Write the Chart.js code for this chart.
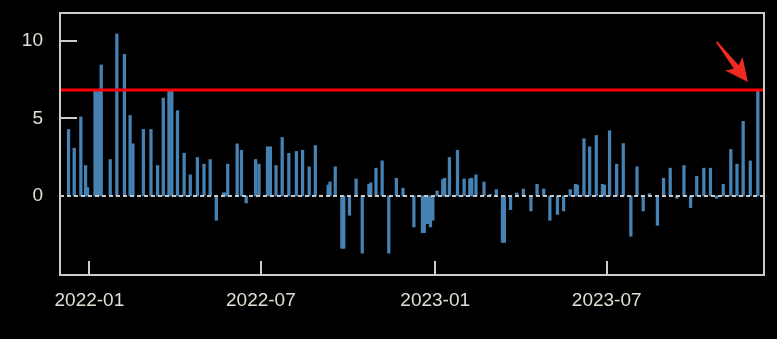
<!DOCTYPE html>
<html>
<head>
<meta charset="utf-8">
<script src="https://cdn.jsdelivr.net/npm/chart.js@4/dist/chart.umd.min.js"></script>
<style>
  html, body { margin: 0; padding: 0; background: #000; }
  #wrap { width: 777px; height: 339px; position: relative; }
</style>
</head>
<body>
<div id="wrap"><canvas id="myChart"></canvas></div>
<script>
// days counted from 2022-01-01
const days = [-22, -16, -9, -4, -2, 6, 8, 10, 12.5, 22, 29, 37, 43, 46, 57, 65, 72, 78, 84, 87,
  93, 100, 106.5, 114, 121, 127.5, 134, 141.5, 143.5, 146, 156, 160.5, 165.5, 175.5, 179, 188, 191, 197, 203.5, 210.5,
  218.5, 225, 232, 238.5, 244, 252, 254, 259.5, 266.5, 268.5, 274.5, 281.5, 288, 295, 297, 302.5, 309, 316, 324, 331,
  342.5, 351.5, 353.5, 355.5, 357.5, 360, 362.5, 367, 373, 375, 380, 388.5, 395.5, 401.5, 403.5, 408, 416.5, 423, 429.5, 436,
  438, 444.5, 451, 458, 466, 472.5, 479.5, 486, 494, 500.5, 507.5, 513, 515, 522, 528, 535, 541.5, 543.5, 549, 556.5,
  563.5, 571.5, 578, 584.5, 591, 599.5, 606, 613, 620, 627.5, 634.5, 641, 648.5, 655.5, 662, 669, 677, 683.5, 690, 697.5, 705.5];
const values = [4.29, 3.08, 5.1, 1.96, 0.54, 6.83, 6.83, 6.83, 8.45, 2.35, 10.45, 9.14, 5.19, 3.36, 4.29, 4.29, 1.96, 6.31, 6.75, 6.75,
  5.5, 2.76, 1.36, 2.48, 2.05, 2.35, -1.57, 0.2, 0.2, 2.05, 3.36, 2.95, -0.45, 2.35, 2.05, 3.17, 3.17, 1.96, 3.77, 2.74,
  2.87, 2.95, 1.88, 3.25, 0.05, 0.7, 0.9, 1.88, -3.38, -3.38, -1.25, 1.1, -3.69, 0.75, 0.84, 1.79, 2.26, -3.69, 1.14, 0.5,
  -2.0, -2.37, -2.37, -1.79, -1.79, -2.0, -1.57, 0.32, 1.06, 1.14, 2.48, 2.95, 1.1, 1.1, 1.14, 1.36, 0.9, 0.1, 0.41, -3.0,
  -3.0, -0.88, 0.19, 0.45, -0.97, 0.75, 0.45, -1.57, -1.19, -0.97, 0.41, 0.75, 0.7, 3.69, 3.17, 3.9, 0.75, 0.7, 4.2, 2.05,
  3.38, -2.6, 1.88, -0.97, 0.15, -1.9, 1.14, 1.79, -0.15, 1.96, -0.75, 1.27, 1.79, 1.79, -0.15, 0.75, 3.0, 2.05, 4.81, 2.26, 6.75];

const xTickDays = [0, 181, 365, 546];
const xTickLabels = ['2022-01', '2022-07', '2023-01', '2023-07'];
const yTicks = [0, 5, 10];
const threshold = 6.84;
const xMin = -31, xMax = 712;
const yMin = -5.1, yMax = 11.8;
// arrow pointing at the last bar (data units)
const arrowTail = {x: 662, y: 9.95};
const arrowTip = {x: 695, y: 7.35};

const textColor = '#e2ddd2';
const frameColor = '#cccccc';

// 边框、内侧刻度、箭头
const framePlugin = {
  id: 'frame',
  afterDraw(chart) {
    const c = chart.ctx;
    const a = chart.chartArea;
    const xs = chart.scales.x, ys = chart.scales.y;
    c.save();
    c.strokeStyle = frameColor;
    c.lineWidth = 2;
    c.strokeRect(a.left, a.top, a.right - a.left, a.bottom - a.top);
    c.beginPath();
    xTickDays.forEach(d => {
      const px = Math.round(xs.getPixelForValue(d));
      c.moveTo(px, a.bottom);
      c.lineTo(px, a.bottom - 14);
    });
    yTicks.forEach(v => {
      if (v === 0) return;
      const py = Math.round(ys.getPixelForValue(v));
      c.moveTo(a.left, py);
      c.lineTo(a.left + 17, py);
    });
    c.stroke();

    // 红色箭头
    const tx = xs.getPixelForValue(arrowTail.x), ty = ys.getPixelForValue(arrowTail.y);
    const hx = xs.getPixelForValue(arrowTip.x), hy = ys.getPixelForValue(arrowTip.y);
    const ang = Math.atan2(hy - ty, hx - tx);
    const len = Math.hypot(hx - tx, hy - ty);
    c.translate(hx, hy);
    c.rotate(ang);
    c.fillStyle = '#ee2b20';
    c.beginPath();
    c.moveTo(0, 0);
    c.lineTo(-23, -11);
    c.lineTo(-19, -3);
    c.lineTo(-len, -0.8);
    c.lineTo(-len, 0.8);
    c.lineTo(-19, 3);
    c.lineTo(-23, 11);
    c.closePath();
    c.fill();
    c.restore();
  }
};

const ctx = document.getElementById('myChart').getContext('2d');
const myChart = new Chart(ctx, {
  type: 'bar',
  data: {
    datasets: [
      {
        type: 'line',
        data: [{x: xMin, y: threshold}, {x: xMax, y: threshold}],
        borderColor: '#ff0000',
        borderWidth: 3,
        pointRadius: 0,
        order: 0
      },
      {
        type: 'line',
        data: [{x: xMin, y: 0}, {x: xMax, y: 0}],
        borderColor: '#c8c8c8',
        borderWidth: 2,
        borderDash: [4, 3],
        pointRadius: 0,
        order: 1
      },
      {
        type: 'bar',
        data: days.map((d, i) => ({x: d, y: values[i]})),
        backgroundColor: '#4682b4',
        barThickness: 2.6,
        order: 2
      }
    ]
  },
  options: {
    responsive: true,
    maintainAspectRatio: false,
    animation: false,
    layout: { padding: { left: 0, top: 13, right: 13, bottom: 0 } },
    plugins: {
      legend: { display: false },
      tooltip: { enabled: false }
    },
    scales: {
      x: {
        type: 'linear',
        min: xMin,
        max: xMax,
        offset: false,
        grid: { display: false, drawTicks: false, offset: false },
        border: { display: false },
        afterBuildTicks: axis => { axis.ticks = xTickDays.map(v => ({value: v})); },
        afterFit: axis => { axis.height = 64; axis.paddingLeft = 0; axis.paddingRight = 0; },
        ticks: {
          autoSkip: false,
          maxRotation: 0,
          padding: 14,
          color: textColor,
          font: { family: 'Liberation Sans', size: 19 },
          callback: v => xTickLabels[xTickDays.indexOf(v)]
        }
      },
      y: {
        min: yMin,
        max: yMax,
        grid: { display: false, drawTicks: false },
        border: { display: false },
        afterBuildTicks: axis => { axis.ticks = yTicks.map(v => ({value: v})); },
        afterFit: axis => { axis.width = 60; axis.paddingTop = 0; axis.paddingBottom = 0; },
        ticks: {
          padding: 17,
          color: textColor,
          font: { family: 'Liberation Sans', size: 19 }
        }
      }
    }
  },
  plugins: [framePlugin]
});
</script>
</body>
</html>
